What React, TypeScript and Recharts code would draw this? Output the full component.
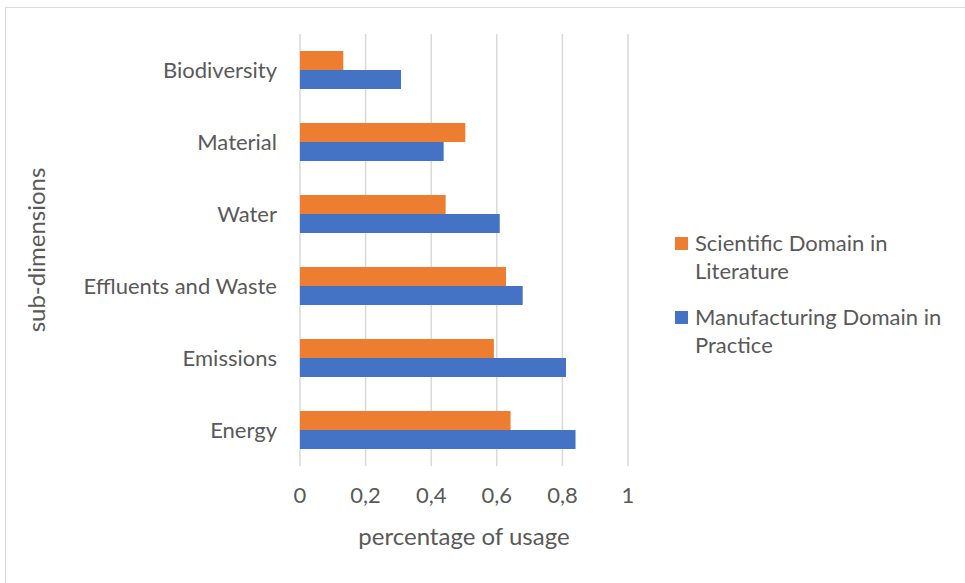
import { BarChart, Bar, XAxis, YAxis, CartesianGrid, Legend } from 'recharts';

const FONT = "Lato, 'Open Sans', sans-serif";
const TEXT = '#595959';
const GRID = '#D9D9D9';
const ORANGE = '#ED7D31';
const BLUE = '#4472C4';

const categories = ['Biodiversity', 'Material', 'Water', 'Effluents and Waste', 'Emissions', 'Energy'];
const scientific = [0.132, 0.504, 0.444, 0.628, 0.591, 0.642];
const manufacturing = [0.308, 0.438, 0.609, 0.679, 0.811, 0.84];
const xTicks = [0, 0.2, 0.4, 0.6, 0.8, 1];

const data = categories.map((name, i) => ({
  name,
  scientific: scientific[i],
  manufacturing: manufacturing[i],
}));

const legendItems = [
  { label: ['Scientific Domain in', 'Literature'], color: ORANGE },
  { label: ['Manufacturing Domain in', 'Practice'], color: BLUE },
];

function ChartLegend() {
  return (
    <div style={{ fontFamily: FONT, fontSize: 22, color: TEXT, lineHeight: '28px' }}>
      {legendItems.map((it) => (
        <div key={it.label[0]} style={{ display: 'flex', alignItems: 'flex-start', marginBottom: 18 }}>
          <span style={{ width: 13, height: 13, background: it.color, marginTop: 8, marginRight: 7, flexShrink: 0 }} />
          <div>
            {it.label.map((l) => <div key={l}>{l}</div>)}
          </div>
        </div>
      ))}
    </div>
  );
}

function YLabel({ viewBox }: any) {
  const cx = viewBox.x + 35;
  const cy = viewBox.y + viewBox.height / 2;
  return (
    <text x={cx} y={cy} transform={`rotate(-90, ${cx}, ${cy})`} textAnchor="middle"
      dominantBaseline="central" fill={TEXT} fontSize={24} fontFamily={FONT}>
      sub-dimensions
    </text>
  );
}

export default function App() {
  return (
    <div style={{ position: 'absolute', left: 0, top: 0, width: 965, height: 583, overflow: 'hidden', background: '#fff' }}>
      <div style={{ position: 'absolute', left: 5, top: 7, width: 970, height: 590, border: `1px solid ${GRID}` }} />
      <BarChart
        width={965}
        height={583}
        data={data}
        layout="vertical"
        margin={{ top: 34, right: 337, bottom: 0, left: 0 }}
        barSize={19}
        barGap={0}
        style={{ position: 'absolute', left: 0, top: 0 }}
      >
        <CartesianGrid horizontal={false} stroke={GRID} strokeWidth={1.5} />
        <XAxis
          type="number"
          domain={[0, 1]}
          ticks={xTicks}
          tickFormatter={(v: number) => String(v).replace('.', ',')}
          axisLine={false}
          tickLine={false}
          tickSize={0}
          tickMargin={21}
          height={117}
          tick={{ fill: TEXT, fontSize: 22, fontFamily: FONT }}
          label={{ value: 'percentage of usage', position: 'insideBottom', offset: 38, fill: TEXT, fontSize: 24, fontFamily: FONT }}
        />
        <YAxis
          type="category"
          dataKey="name"
          width={300}
          axisLine={false}
          tickLine={false}
          tickSize={0}
          tickMargin={23}
          interval={0}
          tick={{ fill: TEXT, fontSize: 22, fontFamily: FONT }}
          label={{ content: YLabel }}
        />
        <Legend
          layout="horizontal"
          verticalAlign="middle"
          align="center"
          content={<ChartLegend />}
          wrapperStyle={{ left: 675, top: 229, width: 285 }}
        />
        <Bar dataKey="scientific" name="Scientific Domain in Literature" fill={ORANGE} isAnimationActive={false} />
        <Bar dataKey="manufacturing" name="Manufacturing Domain in Practice" fill={BLUE} isAnimationActive={false} />
      </BarChart>
    </div>
  );
}
